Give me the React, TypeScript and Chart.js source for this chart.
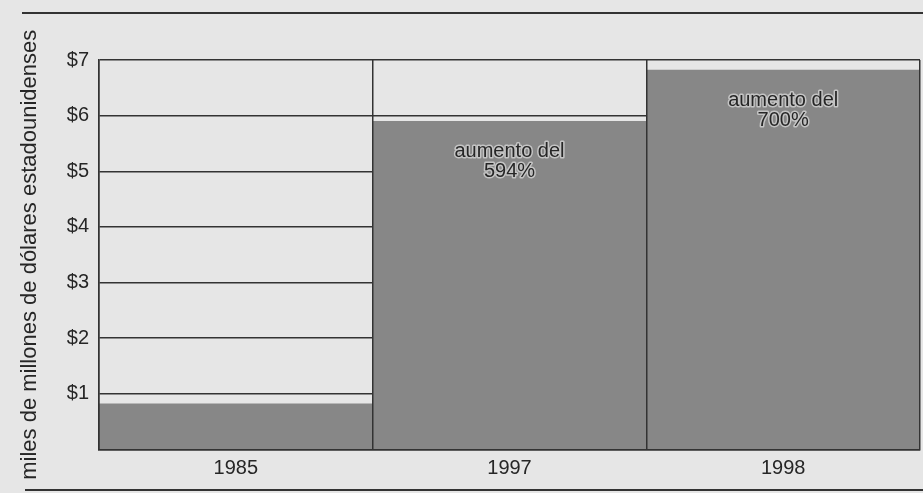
import React, { useEffect, useRef } from "react";
import { Chart, registerables } from "chart.js";

Chart.register(...registerables);

const categories = ["1985", "1997", "1998"];
const values = [0.82, 5.9, 6.82];
const annotations: (string[] | null)[] = [null, ["aumento del", "594%"], ["aumento del", "700%"]];
const yTicks = [0, 1, 2, 3, 4, 5, 6, 7];
const yTitle = "miles de millones de dólares estadounidenses";

const PAPER = "#e6e6e6";
const BAR = "#878787";
const LINE = "#333333";
const TEXT = "#262626";
const FONT = "'Liberation Sans', Arial, sans-serif";

const annotationPlugin = {
  id: "annot",
  afterDatasetsDraw(chart: any) {
    const { ctx } = chart;
    const xs = chart.scales.x;
    const ys = chart.scales.y;
    ctx.save();
    ctx.font = `20px ${FONT}`;
    ctx.textAlign = "center";
    ctx.textBaseline = "middle";
    ctx.lineJoin = "round";
    annotations.forEach((lines, i) => {
      if (!lines) return;
      const x = xs.getPixelForValue(i);
      const y0 = ys.getPixelForValue(values[i]) + 30;
      lines.forEach((t, k) => {
        const y = y0 + k * 20;
        ctx.strokeStyle = "#c4c4c4";
        ctx.lineWidth = 3;
        ctx.strokeText(t, x, y);
        ctx.fillStyle = TEXT;
        ctx.fillText(t, x, y);
      });
    });
    ctx.restore();
  },
};

export default function App() {
  const ref = useRef<HTMLCanvasElement>(null);
  useEffect(() => {
    if (!ref.current) return;
    const chart = new Chart(ref.current, {
      type: "bar",
      data: {
        labels: categories,
        datasets: [
          {
            data: values,
            backgroundColor: BAR,
            borderWidth: 0,
            barPercentage: 1,
            categoryPercentage: 1,
          },
        ],
      },
      options: {
        responsive: false,
        animation: false,
        devicePixelRatio: 1,
        layout: { padding: { top: 60, right: 3, left: 0, bottom: 0 } },
        plugins: { legend: { display: false }, tooltip: { enabled: false } },
        scales: {
          x: {
            offset: true,
            grid: { offset: true, color: LINE, lineWidth: 1.5, drawTicks: false, z: 1 },
            border: { color: LINE, width: 1.5, z: 1 },
            ticks: { color: TEXT, font: { family: FONT, size: 20 }, padding: 7 },
            afterFit: (s: any) => {
              s.height = 43.5;
            },
          },
          y: {
            min: 0,
            max: 7,
            afterBuildTicks: (s: any) => {
              s.ticks = yTicks.map((v) => ({ value: v }));
            },
            grid: { color: LINE, lineWidth: 1.5, drawTicks: false },
            border: { color: LINE, width: 1.5, z: 1 },
            ticks: {
              color: TEXT,
              font: { family: FONT, size: 20 },
              padding: 10,
              callback: (v: any) => (v === 0 ? "" : `$${v}`),
            },
            title: {
              display: true,
              text: yTitle,
              color: TEXT,
              font: { family: FONT, size: 22 },
              padding: { top: 17, bottom: 0 },
            },
            afterFit: (s: any) => {
              s.width = 99;
            },
          },
        },
      },
      plugins: [annotationPlugin],
    });
    return () => chart.destroy();
  }, []);

  return (
    <div
      style={{
        position: "fixed",
        left: 0,
        top: 0,
        width: 923,
        height: 493,
        background: PAPER,
        overflow: "hidden",
      }}
    >
      <div style={{ position: "absolute", left: 22, right: 0, top: 12, height: 2, background: LINE }} />
      <div style={{ position: "absolute", left: 25, right: 0, top: 489, height: 2, background: LINE }} />
      <canvas ref={ref} width={923} height={493} style={{ position: "absolute", left: 0, top: 0 }} />
    </div>
  );
}
